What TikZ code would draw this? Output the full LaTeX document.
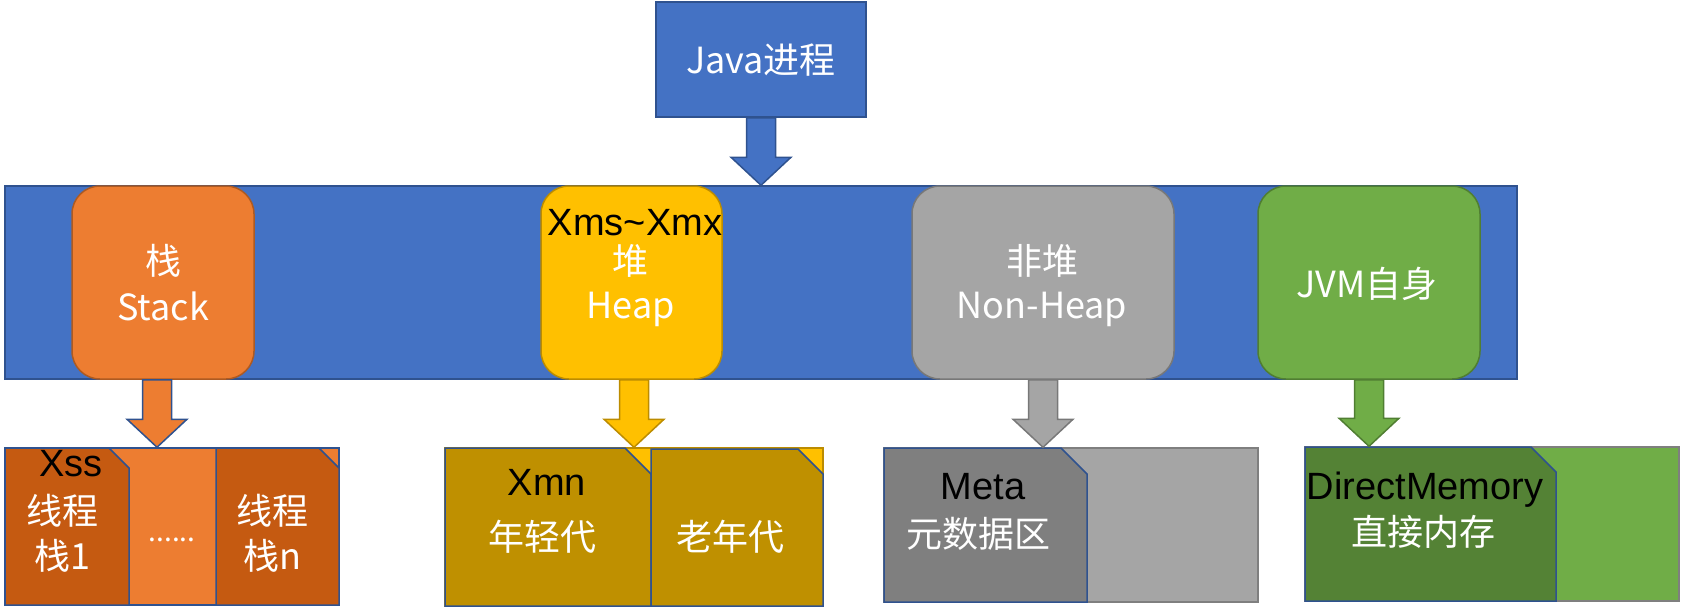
\documentclass[tikz,border=0pt]{standalone}
\usepackage{fontspec}
\setmainfont{Noto Sans CJK SC}
\newfontfamily\latinblack{Liberation Sans}
\usetikzlibrary{calc}
\definecolor{blueF}{HTML}{4472C4}
\definecolor{blueD}{HTML}{2F528F}
\definecolor{orangeF}{HTML}{ED7D31}
\definecolor{orangeD}{HTML}{AE5A21}
\definecolor{orangeK}{HTML}{C55A11}
\definecolor{goldF}{HTML}{FFC000}
\definecolor{goldD}{HTML}{BC8C00}
\definecolor{goldK}{HTML}{BF9000}
\definecolor{greyF}{HTML}{A5A5A5}
\definecolor{greyD}{HTML}{787878}
\definecolor{greyK}{HTML}{7F7F7F}
\definecolor{greenF}{HTML}{70AD47}
\definecolor{greenD}{HTML}{507E32}
\definecolor{greenK}{HTML}{548235}
\newcommand{\blkarrow}[4]{%
  \draw[fill=#3, draw=#4, line width=1.5pt, line join=miter] let \p1=(#1), \p2=(#2) in
  (\x1-14.5pt,\y1) -- (\x1+14.5pt,\y1) -- (\x1+14.5pt,\y2+28pt) -- (\x1+30pt,\y2+28pt)
  -- (\x1,\y2) -- (\x1-30pt,\y2+28pt) -- (\x1-14.5pt,\y2+28pt) -- cycle;}
\newcommand{\snipbox}[6]{%
  \draw[#6, line width=1.5pt, line join=miter] (#1,#2) -- (#3-#5,#2) -- (#3,#2+#5) -- (#3,#4) -- (#1,#4) -- cycle;}
\begin{document}
\begin{tikzpicture}[x=1pt,y=-1pt,
  wt/.style={text=white, font=\fontsize{36}{46}\selectfont, inner sep=0, anchor=base},
  bk/.style={text=black, font=\latinblack\fontsize{38}{46}\selectfont, inner sep=0, anchor=base},
  box/.style={line width=1.5pt, inner sep=0},
  rbox/.style={box, rounded corners=28pt, minimum height=193}]
\useasboundingbox (0,0) rectangle (1681,608);
% top
\node[box, fill=blueF, draw=blueD, minimum width=210, minimum height=115] (java) at (761,59.5) {};
\node[wt] (javat) at (761,73) {Java进程};
\node[box, fill=blueF, draw=blueD, minimum width=1512, minimum height=193] (band) at (761,282.5) {};
\blkarrow{java.south}{band.north}{blueF}{blueD}
% rounded boxes
\node[rbox, fill=orangeF, draw=orangeD, minimum width=182] (stack) at (163,282.5) {};
\node[rbox, fill=goldF, draw=goldD, minimum width=181] (heap) at (631.5,282.5) {};
\node[rbox, fill=greyF, draw=greyD, minimum width=262] (nonheap) at (1043,282.5) {};
\node[rbox, fill=greenF, draw=greenD, minimum width=222] (jvm) at (1369,282.5) {};
\node[wt] (stack1) at (163,274) {栈};
\node[wt] (stack2) at (163,320) {Stack};
\node[bk] (heap0) at (635,235) {Xms\textasciitilde Xmx};
\node[wt] (heap1) at (630,274) {堆};
\node[wt] (heap2) at (630.5,318) {Heap};
\node[wt] (nonheap1) at (1042,274) {非堆};
\node[wt] (nonheap2) at (1042,318) {Non-Heap};
\node[wt] (jvmt) at (1367,297) {JVM自身};
% bottom groups
\node[box, fill=orangeF, draw=blueD, minimum width=334, minimum height=157] (g1) at (172,526.5) {};
\node[box, fill=goldF, draw=goldD, minimum width=378, minimum height=158] (g2) at (634,527) {};
\node[box, fill=greyF, draw=greyK, minimum width=374, minimum height=154] (g3) at (1071,525) {};
\node[box, fill=greenF, draw=greyK, minimum width=374, minimum height=154] (g4) at (1492,524) {};
\snipbox{5}{448}{129}{605}{20}{fill=orangeK, draw=blueD}
\snipbox{216}{448}{339}{605}{20}{fill=orangeK, draw=blueD}
\snipbox{445}{448}{651}{606}{26}{fill=goldK, draw=blueD}
\snipbox{651}{449}{823}{606}{25}{fill=goldK, draw=blueD}
\snipbox{884}{448}{1087}{602}{26}{fill=greyK, draw=blueD}
\snipbox{1305}{447}{1556}{601}{25}{fill=greenK, draw=blueD}
% arrows down
\blkarrow{[xshift=-6pt]stack.south}{g1.north}{orangeF}{blueD}
\blkarrow{[xshift=2.5pt]heap.south}{g2.north}{goldF}{goldD}
\blkarrow{nonheap.south}{g3.north}{greyF}{greyD}
\blkarrow{jvm.south}{g4.north}{greenF}{greenD}
% bottom texts
\node[bk] (xss) at (71,476) {Xss};
\node[wt] (t1a) at (62,524) {线程};
\node[wt] (t1b) at (62,569) {栈1};
\node[wt, font=\fontsize{28}{30}\selectfont] (dots) at (172,541) {......};
\node[wt] (tna) at (272,524) {线程};
\node[wt] (tnb) at (272,569) {栈n};
\node[bk] (xmn) at (547,495) {Xmn};
\node[wt] (young) at (542,550) {年轻代};
\node[wt] (old) at (730,550) {老年代};
\node[bk] (meta) at (983,499) {Meta};
\node[wt] (metat) at (978,547) {元数据区};
\node[bk] (dm) at (1425,499) {DirectMemory};
\node[wt] (dmt) at (1423,545) {直接内存};
\end{tikzpicture}
\end{document}
